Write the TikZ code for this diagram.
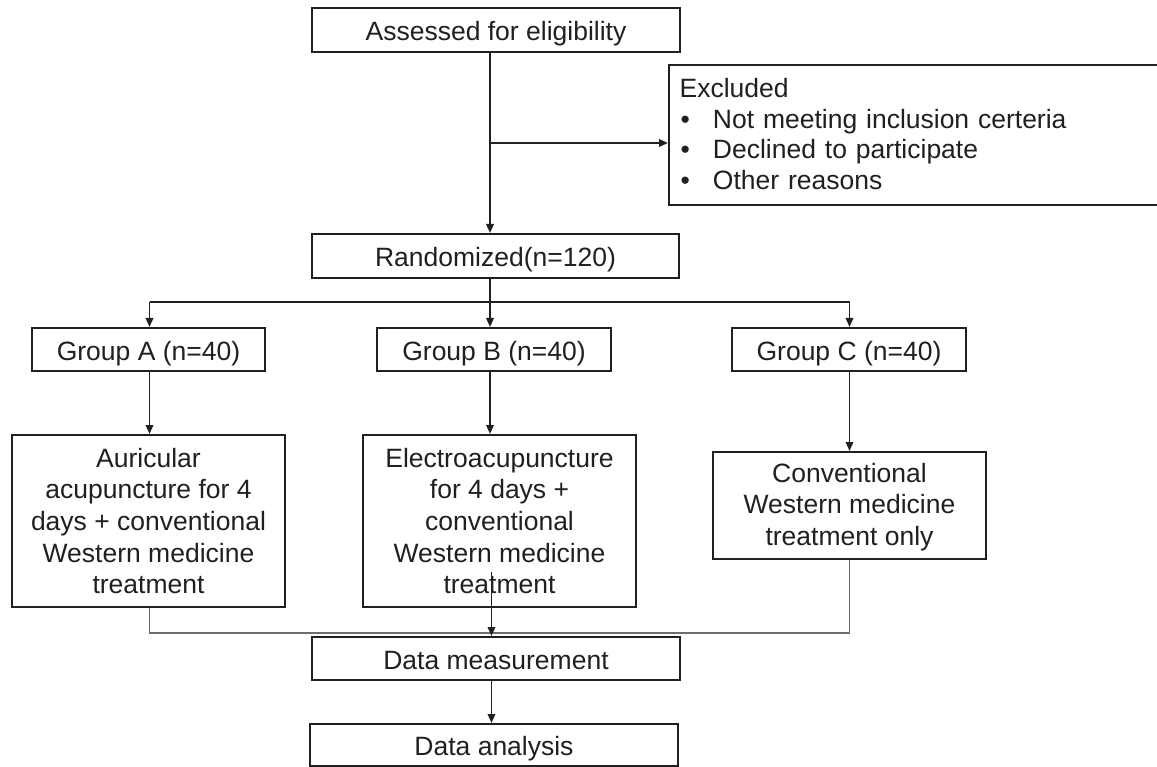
\documentclass[tikz,border=0pt]{standalone}
\usepackage{fontspec}
\setmainfont{Liberation Sans}
\usetikzlibrary{arrows.meta}
\definecolor{ink}{HTML}{231F20}
\definecolor{thinline}{HTML}{6E6E6E}
\begin{document}
\begin{tikzpicture}[x=1pt,y=-1pt,
  box/.style={draw=ink,line width=2pt,text=ink,inner sep=0pt,align=center,
    font=\fontsize{26.5}{31.7}\selectfont},
  single/.style={box,text height=21pt,text depth=0pt},
  arr/.style={draw=ink,line width=1.8pt,-{Triangle[length=9pt,width=7.5pt]}},
  link/.style={draw=ink,line width=1.8pt},
  merge/.style={draw=thinline,line width=1.2pt}]
\useasboundingbox[fill=white] (0,0) rectangle (1157,767);

% boxes
\node[single,minimum width=368pt,minimum height=44pt] (assess) at (496,30) {Assessed for eligibility};
\node[box,minimum width=501pt,minimum height=140pt,text width=501pt,align=left,
  font=\fontsize{26.5}{30.4}\selectfont] (excl) at (919.5,135)
  {\hspace*{10.6pt}Excluded\\
   \makebox[44pt][l]{\hspace*{11.5pt}•}Not meeting inclusion certeria\\
   \makebox[44pt][l]{\hspace*{11.5pt}•}Declined to participate\\
   \makebox[44pt][l]{\hspace*{11.5pt}•}Other reasons\rule[-2pt]{0pt}{2pt}};
\node[single,minimum width=367pt,minimum height=44pt] (rand) at (495.5,256) {Randomized(n=120)};
\node[single,minimum width=233pt,minimum height=43pt] (gA) at (148.5,349.5) {Group A (n=40)};
\node[single,minimum width=234pt,minimum height=43pt] (gB) at (494,349.5) {Group B (n=40)};
\node[single,minimum width=234pt,minimum height=43pt] (gC) at (849,349.5) {Group C (n=40)};
\node[box,minimum width=273pt,minimum height=172pt] (aur) at (148.5,521)
  {Auricular\\acupuncture for 4\\days + conventional\\Western medicine\\treatment};
\node[box,minimum width=273pt,minimum height=172pt] (ele) at (499.5,521)
  {Electroacupuncture\\for 4 days +\\conventional\\Western medicine\\treatment};
\node[box,minimum width=273pt,minimum height=107pt] (conv) at (849.5,505.5)
  {\rule{0pt}{22pt}Conventional\\Western medicine\\treatment only};
\node[single,minimum width=368pt,minimum height=43pt] (dm) at (496,658.5) {Data measurement};
\node[single,minimum width=368pt,minimum height=42pt] (da) at (494,745) {Data analysis};

% helper coordinates
\coordinate (spine) at (490,0);
\coordinate (split) at (490,143);
\coordinate (fork) at (490,302);
\coordinate (forkA) at (149.5,302);
\coordinate (forkC) at (849.5,302);
\coordinate (mergeA) at (149.5,633);
\coordinate (mergeC) at (849.5,633);
\coordinate (mid) at (491.5,572);

% connectors
\draw[arr] (spine |- assess.south) -- (spine |- rand.north);
\draw[arr] (split) -- (split -| excl.west);
\draw[arr] (spine |- rand.south) -- (spine |- gB.north);
\draw[link] (forkA) -- (forkC);
\draw[arr] (forkA) -- (forkA |- gA.north);
\draw[arr] (forkC) -- (forkC |- gC.north);
\draw[arr] (forkA |- gA.south) -- (forkA |- aur.north);
\draw[arr] (fork |- gB.south) -- (fork |- ele.north);
\draw[arr] (forkC |- gC.south) -- (forkC |- conv.north);
\draw[merge] (mergeA |- aur.south) -- (mergeA) -- (mergeC) -- (mergeC |- conv.south);
\draw[arr] (mid) -- (mid |- dm.north);
\draw[arr] (mid |- dm.south) -- (mid |- da.north);
\end{tikzpicture}
\end{document}
